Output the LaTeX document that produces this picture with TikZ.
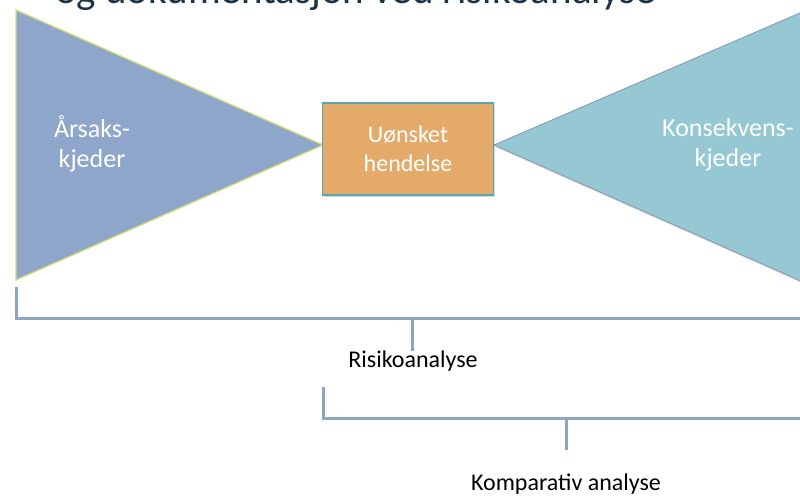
\documentclass[tikz,border=0pt]{standalone}
\usepackage{fontspec}
\setmainfont{Carlito}
\usetikzlibrary{shadows,positioning}
\definecolor{causeblue}{HTML}{8EA6C9}
\definecolor{causeedge}{HTML}{D5DC7C}
\definecolor{eventfill}{HTML}{E3AA6A}
\definecolor{eventedge}{HTML}{55A8B3}
\definecolor{consfill}{HTML}{95C8D3}
\definecolor{consedge}{HTML}{8496B4}
\definecolor{bracegray}{HTML}{8EA5C2}
\definecolor{titlenavy}{HTML}{1A3347}
\tikzset{tri/.style={line width=1.3pt, line join=miter},
  evt/.style={draw=eventedge, fill=eventfill, line width=1.3pt, minimum width=171pt, minimum height=92pt,
    text=white, align=center, font=\fontsize{24}{29}\selectfont,
    drop shadow={opacity=0.3, shadow xshift=1.5pt, shadow yshift=-2pt}},
  wtxt/.style={text=white, align=center, font=\fontsize{26}{30}\selectfont},
  brace/.style={draw=bracegray, line width=3pt},
  lbl/.style={inner sep=0pt, font=\fontsize{24}{28}\selectfont}}

\begin{document}
\begin{tikzpicture}[x=1pt, y=-1pt]
  \useasboundingbox (0,0) rectangle (800,495);
  \clip (0,0) rectangle (800,495);
  % heading, only its lower edge is left in the frame
  \node[anchor=base west, inner sep=0pt, text=titlenavy, font=\fontsize{41}{41}\selectfont] (title) at (55,4)
    {og dokumentasjon ved risikoanalyse};
  % cause side
  \coordinate (c-top) at (16,10);
  \coordinate (c-bot) at (16,280);
  \coordinate (c-tip) at (323,145);
  \filldraw[tri, fill=causeblue, draw=causeedge] (c-top) -- (c-bot) -- (c-tip) -- cycle;
  \node[wtxt] (cause) at (92,144) {Årsaks-\\kjeder};
  % consequence side, runs out past the right edge
  \coordinate (k-tip) at (494,145);
  \coordinate (k-top) at (830,0);
  \coordinate (k-bot) at (830,294);
  \filldraw[line width=0.8pt, fill=consfill, draw=consedge,
    drop shadow={opacity=0.25, shadow xshift=1pt, shadow yshift=-2pt}] (k-tip) -- (k-top) -- (k-bot) -- cycle;
  \node[wtxt] (cons) at (728,145) {Konsekvens-\\kjeder};
  % the event in the middle
  \node[evt] (event) at (408,149) {Uønsket\\hendelse};
  % brackets below
  \coordinate (ra-l) at (16,287);
  \coordinate (ra-r) at (810,318);
  \coordinate (ra-m) at (412,318);
  \node[lbl] (risk) at (413,361) {Risikoanalyse};
  \draw[brace] (ra-l) |- (ra-r);
  \draw[brace] (ra-m) -- (ra-m |- risk.north);
  \coordinate (ka-l) at (323,387);
  \coordinate (ka-r) at (810,418);
  \coordinate (ka-m) at (566,418);
  \node[lbl] (comp) at (566,484) {Komparativ analyse};
  \draw[brace] (ka-l) |- (ka-r);
  \draw[brace] (ka-m) -- ++(0,32);
\end{tikzpicture}
\end{document}
